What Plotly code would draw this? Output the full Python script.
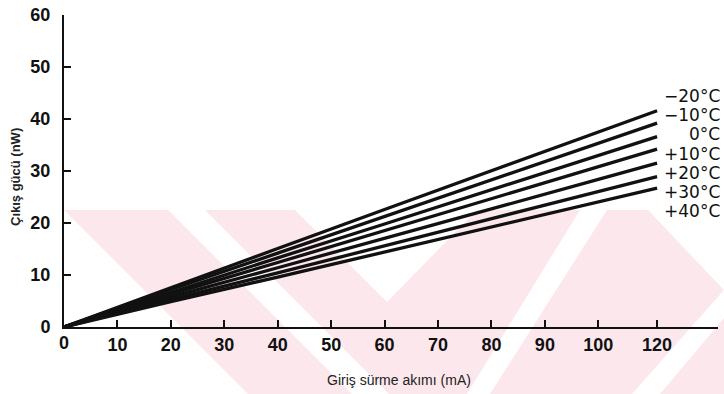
import numpy as np
import plotly.graph_objects as go

# ---- data ----
x_tick_labels = ["0", "10", "20", "30", "40", "50", "60", "70", "80", "90", "100", "120"]
x_tick_values = [0, 10, 20, 30, 40, 50, 60, 70, 80, 90, 100, 120]
# the printed axis places the "120" tick only a little past 100
x_tick_positions = [0, 10, 20, 30, 40, 50, 60, 70, 80, 90, 100, 111]

current_ma = [0, 20, 40, 60, 80, 100, 120]

temperatures = ["\u221220\u00b0C", "\u221210\u00b0C", "0\u00b0C", "+10\u00b0C",
                "+20\u00b0C", "+30\u00b0C", "+40\u00b0C"]

p_m20 = [0, 7.6, 15.1, 22.6, 30.0, 37.5, 41.6]
p_m10 = [0, 7.2, 14.2, 21.2, 28.3, 35.3, 39.2]
p_0 = [0, 6.7, 13.3, 19.8, 26.4, 33.0, 36.6]
p_p10 = [0, 6.3, 12.4, 18.5, 24.6, 30.8, 34.2]
p_p20 = [0, 5.8, 11.4, 17.0, 22.7, 28.4, 31.5]
p_p30 = [0, 5.3, 10.4, 15.6, 20.8, 26.0, 28.9]
p_p40 = [0, 4.9, 9.6, 14.4, 19.2, 24.1, 26.7]
series = [p_m20, p_m10, p_0, p_p10, p_p20, p_p30, p_p40]

y_ticks = [0, 10, 20, 30, 40, 50, 60]

# ---- figure ----
W, H = 724, 394
L, R, T, B = 64, 6, 15, 67
PW, PH = W - L - R, H - T - B
x_pos = np.interp(current_ma, x_tick_values, x_tick_positions)


def px(xp, yp):
    """pixel position -> paper coordinates"""
    return (xp - L) / PW, 1 - (yp - T) / PH


fig = go.Figure()
for name, vals in zip(temperatures, series):
    fig.add_trace(go.Scatter(x=x_pos, y=vals, mode="lines", name=name,
                             line=dict(color="#111111", width=3.3),
                             showlegend=False, hoverinfo="skip"))

tickfont = dict(family="Liberation Sans, Arial, sans-serif", size=18,
                color="#111111", weight="bold")

fig.update_layout(
    width=W, height=H,
    margin=dict(l=L, r=R, t=T, b=B),
    paper_bgcolor="white", plot_bgcolor="rgba(0,0,0,0)",
    xaxis=dict(range=[0, 122.4], tickmode="array",
               tickvals=x_tick_positions[1:], ticktext=x_tick_labels[1:],
               ticks="inside", ticklen=7, tickwidth=2, tickcolor="#111",
               showline=True, linecolor="#111", linewidth=2,
               showgrid=False, zeroline=False, tickfont=tickfont,
               ticklabelstandoff=0),
    yaxis=dict(range=[0, 60], tickvals=y_ticks,
               ticks="inside", ticklen=7, tickwidth=2, tickcolor="#111",
               showline=True, linecolor="#111", linewidth=2,
               showgrid=False, zeroline=False, tickfont=tickfont,
               ticklabelstandoff=8),
)

# faint pink watermark of the scanned page (decoration only)
wm_polys = [
    [(64, 210), (168, 210), (352, 394), (248, 394)],
    [(205, 210), (295, 210), (387, 302), (477, 210), (580, 210), (467, 394), (389, 394)],
    [(490, 394), (607, 210), (648, 210), (724, 290), (632, 394)],
    [(660, 394), (724, 318), (724, 394)],
]
for poly in wm_polys:
    pts = [px(a, b) for a, b in poly]
    path = "M " + " L ".join(f"{a:.4f},{b:.4f}" for a, b in pts) + " Z"
    fig.add_shape(type="path", path=path, xref="paper", yref="paper",
                  fillcolor="#fce8ec", line=dict(width=0), layer="below")

# "0" label at origin of x axis
fig.add_annotation(x=0, y=0, xref="x", yref="y", text="0", showarrow=False,
                   yshift=-16, font=tickfont)

# temperature labels on the right
label_y_px = [96, 115, 134, 154, 173, 192, 211]
for t, ypx in zip(temperatures, label_y_px):
    ax, ay = px(722, ypx)
    fig.add_annotation(x=ax, xref="paper", xanchor="right",
                       y=ay, yref="paper", yanchor="middle",
                       text=t, showarrow=False,
                       font=dict(family="DejaVu Sans, sans-serif", size=17, color="#111111"))

# axis titles
tx, ty = px(399, 380)
fig.add_annotation(x=tx, xref="paper", y=ty, yref="paper", yanchor="middle",
                   text="Giri\u015f s\u00fcrme ak\u0131m\u0131 (mA)", showarrow=False,
                   font=dict(family="Liberation Sans, Arial, sans-serif", size=14, color="#222"))
vx, vy = px(15, 177)
fig.add_annotation(x=vx, xref="paper", xanchor="center",
                   y=vy, yref="paper", yanchor="middle",
                   text="\u00c7\u0131k\u0131\u015f g\u00fcc\u00fc (nW)", textangle=-90,
                   showarrow=False,
                   font=dict(family="Liberation Sans, Arial, sans-serif", size=13,
                             color="#222", weight="bold"))

fig.write_html("out.html")
